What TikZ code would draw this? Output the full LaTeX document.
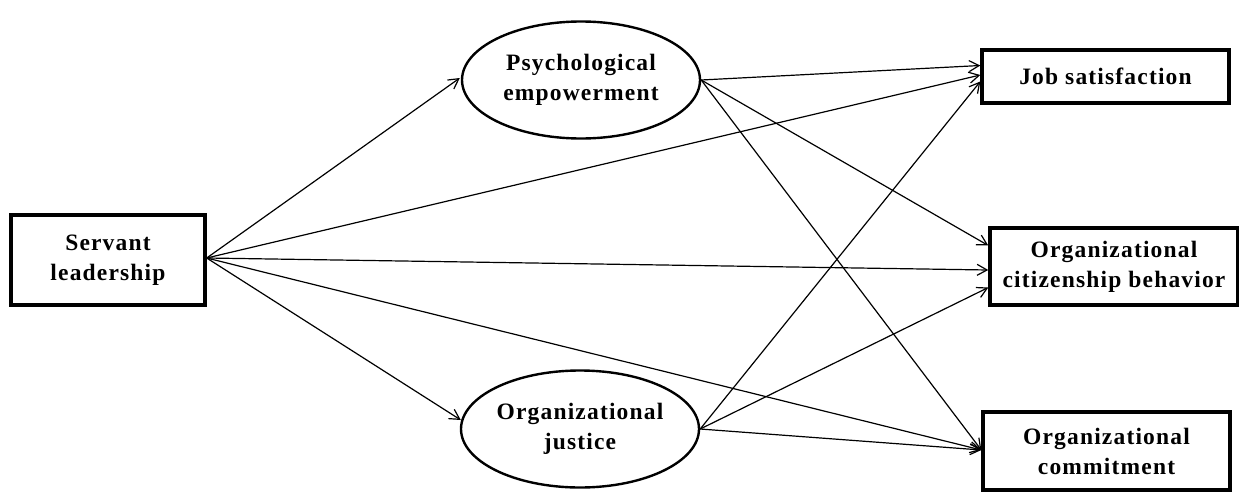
\documentclass[tikz,border=0pt]{standalone}
\usepackage{fontspec}
\setmainfont{Liberation Serif}[LetterSpace=5]
\usetikzlibrary{arrows.meta,shapes.geometric}
\begin{document}
\begin{tikzpicture}[x=1pt,y=-1pt,
  lbl/.style={font=\fontsize{23.5}{30}\selectfont\bfseries, align=center, inner sep=0pt},
  boxnode/.style={lbl, draw, line width=3.4pt, minimum width=#1},
  ellnode/.style={lbl, draw, ellipse, line width=2.4pt, minimum width=238pt, minimum height=117pt},
  link/.style={line width=1.2pt, -{Straight Barb[length=10pt,width=11pt,line width=1.2pt]}}
]
\useasboundingbox (0,0) rectangle (1239,493);
\node[boxnode=194pt, minimum height=90pt] (sl) at (108,260) {Servant\\leadership};
\node[ellnode] (pe) at (581,80) {Psychological\\empowerment};
\node[ellnode] (oj) at (580,429) {Organizational\\justice};
\node[boxnode=247pt, minimum height=53pt] (js) at (1105.5,76.5) {Job satisfaction};
\node[boxnode=248pt, minimum height=77pt] (ocb) at (1114,266.5) {Organizational\\citizenship behavior};
\node[boxnode=247pt, minimum height=78pt] (oc) at (1106.5,451) {Organizational\\commitment};

\coordinate (slo) at ([yshift=2pt]sl.east);
\coordinate (peo) at (pe.east);
\coordinate (ojo) at (oj.east);

\draw[link] (slo) -- ([xshift=-1pt,yshift=2pt]pe.west);
\draw[link] (slo) -- ([xshift=1pt,yshift=9pt]oj.west);
\draw[link] (slo) -- ([yshift=1.5pt]js.west);
\draw[link] (slo) -- ([yshift=-3.5pt]ocb.west);
\draw[link] (slo) -- ([yshift=1pt]oc.west);

\draw[link] (peo) -- ([yshift=11pt]js.west);
\draw[link] (peo) -- ([yshift=21pt]ocb.west);
\draw[link] (peo) -- ([yshift=1pt]oc.west);

\draw[link] (ojo) -- ([yshift=-5pt]js.west);
\draw[link] (ojo) -- ([yshift=-21pt]ocb.west);
\draw[link] (ojo) -- ([yshift=1pt]oc.west);
\end{tikzpicture}
\end{document}
